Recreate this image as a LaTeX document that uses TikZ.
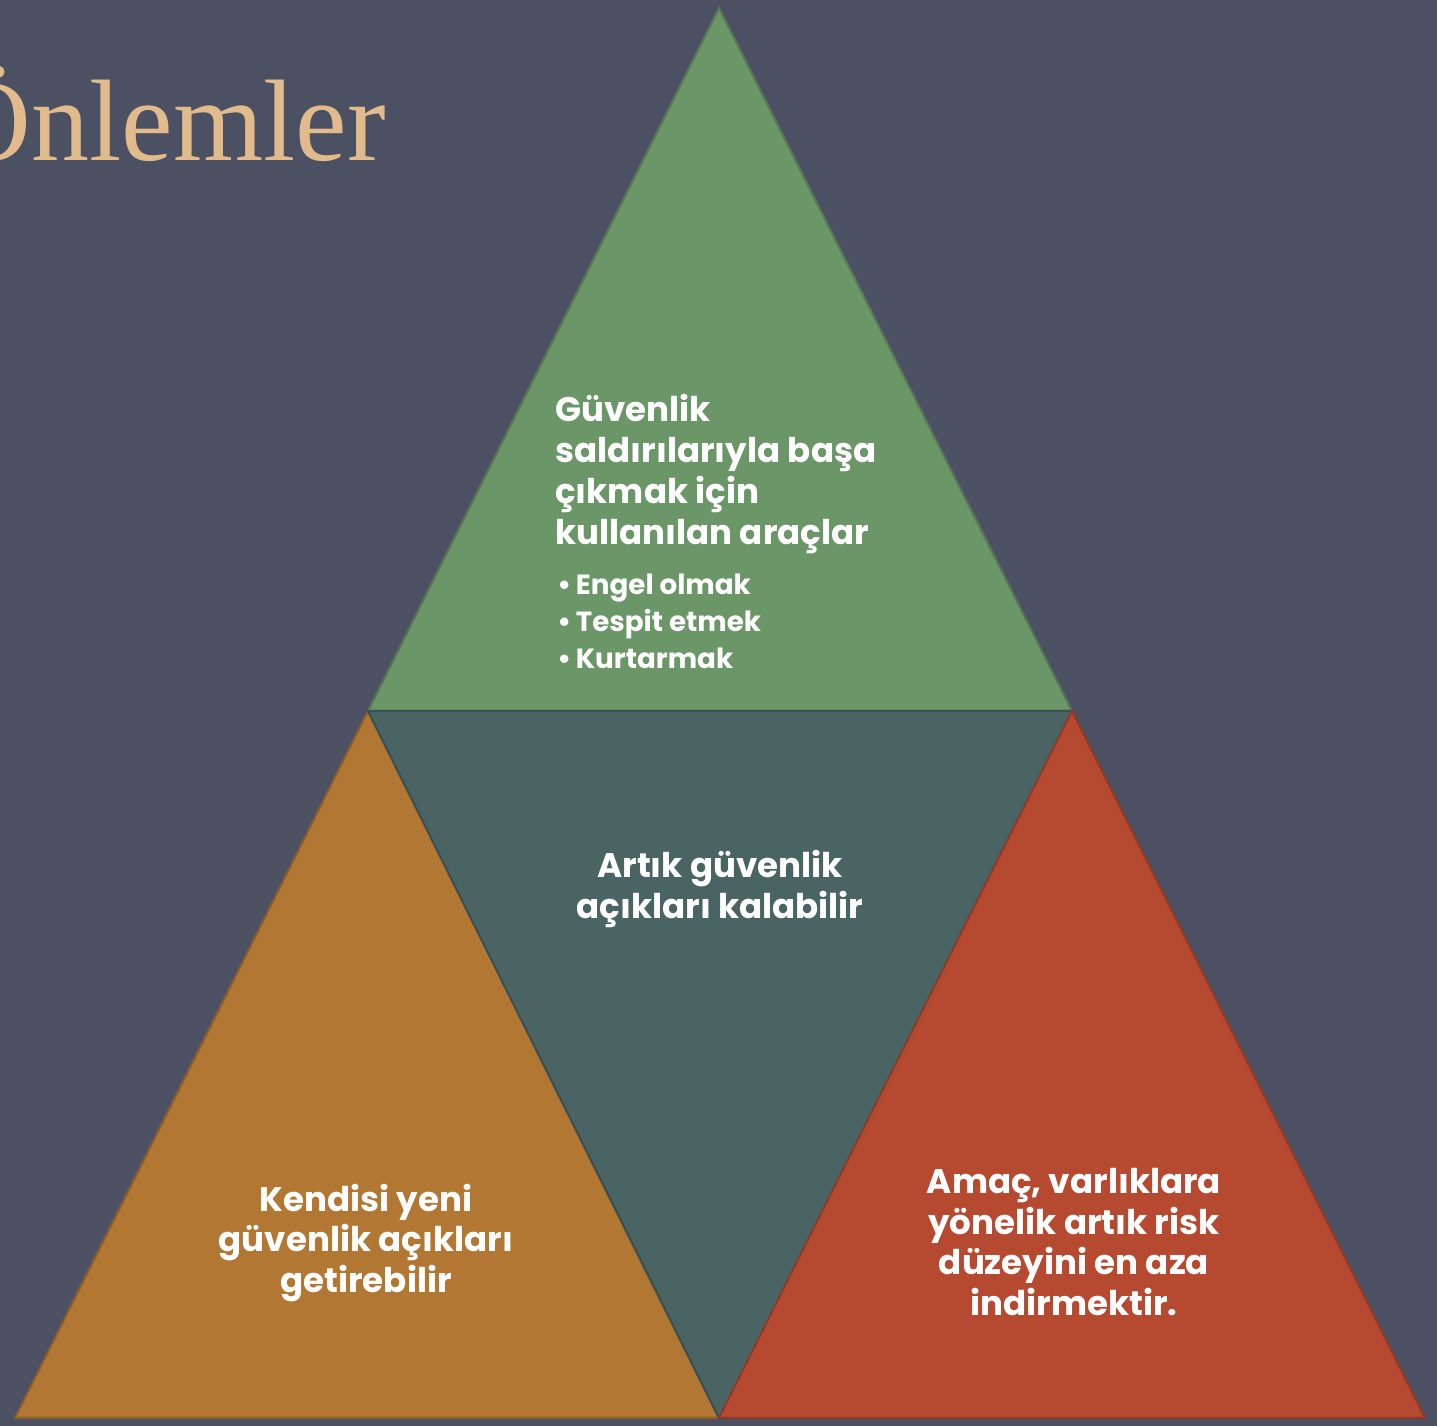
\documentclass[tikz,border=0pt]{standalone}
\usepackage{fontspec}
\setsansfont{Poppins}
\setmainfont{Liberation Serif}
\definecolor{slate}{HTML}{4B5063}
\definecolor{sand}{HTML}{E2BB8C}
\definecolor{leaf}{HTML}{6B9668}
\definecolor{pine}{HTML}{4A6464}
\definecolor{ochre}{HTML}{B27733}
\definecolor{brick}{HTML}{B54A31}

\begin{document}
\begin{tikzpicture}[x=0.02cm,y=-0.02cm,
  tri/.style={line width=1.2pt, line join=miter},
  body/.style={font=\sffamily\bfseries\fontsize{19.4}{23.3}\selectfont, text=white, align=center, inner sep=0pt},
  items/.style={font=\sffamily\bfseries\fontsize{15.8}{21}\selectfont, text=white, align=left, inner sep=0pt}]

% page and background
\useasboundingbox (0,0) rectangle (1437,1426);
\fill[slate] (0,0) rectangle (1437,1426);

% Corner points of the big triangle
\coordinate (T) at (719,8);
\coordinate (L) at (368,711);
\coordinate (R) at (1072,711);
\coordinate (BL) at (15,1418);
\coordinate (BM) at (719,1418);
\coordinate (BR) at (1425,1418);

% Four triangles
\filldraw[tri, fill=leaf, draw=leaf!80!black] (T) -- (R) -- (L) -- cycle;
\filldraw[tri, fill=ochre, draw=ochre!80!black] (L) -- (BM) -- (BL) -- cycle;
\filldraw[tri, fill=pine, draw=pine!80!black] (L) -- (R) -- (BM) -- cycle;
\filldraw[tri, fill=brick, draw=brick!80!black] (R) -- (BR) -- (BM) -- cycle;

% Title, cut at the left edge
\begin{scope}
\clip (0,0) rectangle (1437,1426);
\node[anchor=base east, text=sand, inner sep=0pt, font=\fontsize{66}{70}\selectfont] (title) at (386,160) {Önlemler};
\end{scope}

% Texts
\node[body, align=left, anchor=north west] (tools) at (555,394)
  {Güvenlik\\saldırılarıyla başa\\çıkmak için\\kullanılan araçlar};
\node[items, anchor=north west] (steps) at (557,574)
  {•\,Engel olmak\\•\,Tespit etmek\\•\,Kurtarmak};
\node[body] (rest) at (720,889) {Artık güvenlik\\açıkları kalabilir};
\node[body] (newgap) at (366,1243) {Kendisi yeni\\güvenlik açıkları\\getirebilir};
\node[body] (aim) at (1074,1242) {Amaç, varlıklara\\yönelik artık risk\\düzeyini en aza\\indirmektir.};

\end{tikzpicture}
\end{document}
